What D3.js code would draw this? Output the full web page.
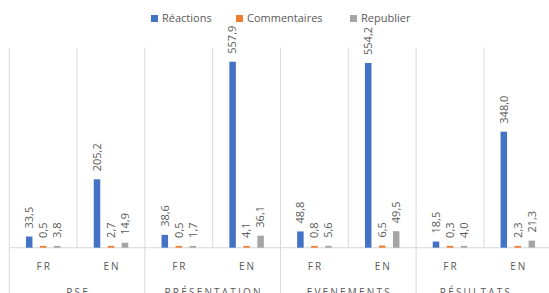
<!DOCTYPE html>
<html>
<head>
<meta charset="utf-8">
<script src="https://cdn.jsdelivr.net/npm/d3@7"></script>
<style>
  html, body { margin: 0; padding: 0; background: #fff; }
  svg { display: block; }
  text { font-family: "Open Sans", sans-serif; fill: #595959; }
</style>
</head>
<body>
<svg id="chart" width="549" height="293"></svg>
<script>
// ---- Data ----
const groups = ["RSE", "PRÉSENTATION", "EVENEMENTS", "RÉSULTATS"];
const languages = ["FR", "EN"];
const seriesNames = ["Réactions", "Commentaires", "Republier"];
const seriesColors = ["#4472C4", "#ED7D31", "#A5A5A5"];
// values per group, per language: [Réactions, Commentaires, Republier]
const reactions    = [33.5, 205.2, 38.6, 557.9, 48.8, 554.2, 18.5, 348.0];
const commentaires = [0.5, 2.7, 0.5, 4.1, 0.8, 6.5, 0.3, 2.3];
const republier    = [3.8, 14.9, 1.7, 36.1, 5.6, 49.5, 4.0, 21.3];
const yMax = 600;

// ---- Build table ----
const cats = [];
groups.forEach((g, gi) => languages.forEach((l, li) => {
  const i = gi * languages.length + li;
  cats.push({ key: g + "|" + l, group: g, lang: l,
    values: [reactions[i], commentaires[i], republier[i]] });
}));

const svg = d3.select("#chart");
const pLeft = 9.3, pRight = 551.7, pTop = 47.7, pBase = 247.7;

const x = d3.scaleBand().domain(cats.map(d => d.key)).range([pLeft, pRight]).padding(0);
const y = d3.scaleLinear().domain([0, yMax]).range([pBase, pTop]);
const xs = d3.scaleBand().domain(seriesNames).range([-21, 21]).paddingInner(0.535).paddingOuter(0.268);
const fmt = d3.formatLocale({ decimal: ",", thousands: " ", grouping: [3], currency: ["", "€"] }).format(".1f");

const gridColor = "#d9d9d9";

// vertical gridlines at category boundaries
const bounds = cats.map(d => x(d.key)).concat([pRight]);
svg.append("g").selectAll("line").data(bounds).join("line")
  .attr("x1", d => d).attr("x2", d => d)
  .attr("y1", pTop).attr("y2", (d, i) => (i % languages.length === 0) ? 293 : pBase)
  .attr("stroke", gridColor).attr("stroke-width", 1);

// baseline
svg.append("line").attr("x1", pLeft).attr("x2", pRight).attr("y1", pBase).attr("y2", pBase)
  .attr("stroke", gridColor).attr("stroke-width", 1);

// bars
const catG = svg.append("g").selectAll("g").data(cats).join("g")
  .attr("transform", d => `translate(${x(d.key) + x.bandwidth() / 2},0)`);

catG.selectAll("rect").data(d => d.values.map((v, i) => ({ v, s: seriesNames[i], c: seriesColors[i] })))
  .join("rect")
  .attr("x", d => xs(d.s))
  .attr("width", xs.bandwidth())
  .attr("y", d => pBase - Math.max(pBase - y(d.v), 1.8))
  .attr("height", d => Math.max(pBase - y(d.v), 1.8))
  .attr("fill", d => d.c);

// data labels (rotated)
catG.selectAll("text.lbl").data(d => d.values.map((v, i) => ({ v, s: seriesNames[i] })))
  .join("text").attr("class", "lbl")
  .attr("transform", d => `translate(${xs(d.s) + xs.bandwidth() / 2},${Math.min(y(d.v), pBase - 1.8) - 8}) rotate(-90)`)
  .attr("dy", "0.35em")
  .attr("text-anchor", "start")
  .style("font-size", "11px")
  .text(d => fmt(d.v));

// language labels
svg.append("g").selectAll("text").data(cats).join("text")
  .attr("x", d => x(d.key) + x.bandwidth() / 2 + 1)
  .attr("y", 269.5)
  .attr("text-anchor", "middle")
  .style("font-size", "10px")
  .style("letter-spacing", "2px")
  .text(d => d.lang);

// group labels
const gw = x.bandwidth() * languages.length;
svg.append("g").selectAll("text").data(groups).join("text")
  .attr("x", (d, i) => {
    const c = pLeft + gw * (i + 0.5);
    return Math.min(c, 475) + 1;
  })
  .attr("y", 296)
  .attr("text-anchor", "middle")
  .style("font-size", "10px")
  .style("letter-spacing", "2.2px")
  .text(d => d);

// legend
const legX = [151, 236, 350];
const leg = svg.append("g").selectAll("g").data(seriesNames).join("g")
  .attr("transform", (d, i) => `translate(${legX[i]},15)`);
leg.append("rect").attr("width", 7).attr("height", 7).attr("fill", (d, i) => seriesColors[i]);
leg.append("text").attr("x", 11).attr("y", 3.5).attr("dy", "0.35em")
  .style("font-size", "11px").text(d => d);
</script>
</body>
</html>
